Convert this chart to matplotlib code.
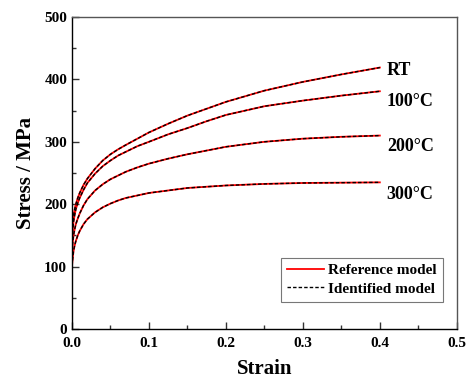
import matplotlib
matplotlib.use('Agg')
import matplotlib.pyplot as plt
from matplotlib.ticker import MultipleLocator

plt.rcParams['font.family'] = 'Liberation Serif'
plt.rcParams['font.weight'] = 'bold'

# strain points
strain = [0, 0.001, 0.002, 0.0035, 0.005, 0.0075, 0.01, 0.015, 0.02, 0.03, 0.04, 0.05,
          0.06, 0.07, 0.085, 0.1, 0.125, 0.15, 0.175, 0.2, 0.25, 0.3, 0.35, 0.4]

# stress / MPa per temperature
stress_rt = [155, 170, 182, 192, 200, 210, 218, 231, 241, 257, 270, 280,
             288, 295, 305, 315, 329, 342, 353, 364, 382, 396, 408, 419]
stress_100 = [145, 160, 172, 183, 192, 202, 210, 223, 234, 249, 261, 270,
              278, 284, 293, 300, 312, 322, 333, 343, 357, 366, 374, 381]
stress_200 = [125, 139, 150, 160, 168, 177, 185, 198, 208, 222, 232, 240,
              246, 252, 259, 265, 273, 280, 286, 292, 300, 305, 308, 310]
stress_300 = [101, 114, 125, 134, 141, 150, 157, 168, 176, 187, 195, 201,
              206, 210, 214, 218, 222, 226, 228, 230, 232.5, 234, 234.5, 235]

curves = [stress_rt, stress_100, stress_200, stress_300]
labels = ['RT', '100°C', '200°C', '300°C']
label_y = [414, 364, 292, 215]

fig = plt.figure(figsize=(4.69, 3.83), dpi=100)
ax = fig.add_axes([0.1535, 0.141, 0.8205, 0.8146])

for i, s in enumerate(curves):
    ax.plot(strain, s, color='red', lw=1.3, label='Reference model' if i == 0 else None)
for i, s in enumerate(curves):
    ax.plot(strain, s, color='black', lw=1.0, ls=(0, (2.5, 1.5)),
            label='Identified model' if i == 0 else None)

for lab, y in zip(labels, label_y):
    ax.text(0.409, y, lab, fontsize=13, fontweight='bold', va='center', ha='left')

ax.set_xlim(0, 0.5)
ax.set_ylim(0, 500)
ax.xaxis.set_major_locator(MultipleLocator(0.1))
ax.xaxis.set_minor_locator(MultipleLocator(0.05))
ax.yaxis.set_major_locator(MultipleLocator(100))
ax.yaxis.set_minor_locator(MultipleLocator(50))
ax.tick_params(which='both', direction='in', labelsize=11, width=1, color='#333333')
ax.tick_params(which='major', length=5)
ax.tick_params(which='minor', length=3)
ax.tick_params(axis='x', pad=6)
for lab in ax.get_xticklabels() + ax.get_yticklabels():
    lab.set_fontweight('bold')

ax.spines['left'].set_color('black')
ax.spines['bottom'].set_color('black')
ax.spines['top'].set_color('#555555')
ax.spines['right'].set_color('#555555')
for sp in ax.spines.values():
    sp.set_linewidth(1.0)

ax.set_xlabel('Strain', fontsize=15, fontweight='bold', labelpad=6)
ax.set_ylabel('Stress / MPa', fontsize=15, fontweight='bold', labelpad=6)

leg = ax.legend(loc='lower right', bbox_to_anchor=(0.964, 0.087), fontsize=11, frameon=True,
                fancybox=False, edgecolor='#555555', handlelength=2.4, handletextpad=0.3,
                borderpad=0.4, labelspacing=0.3, borderaxespad=0)
leg.get_frame().set_linewidth(0.8)

fig.savefig('out.png', dpi=100)
